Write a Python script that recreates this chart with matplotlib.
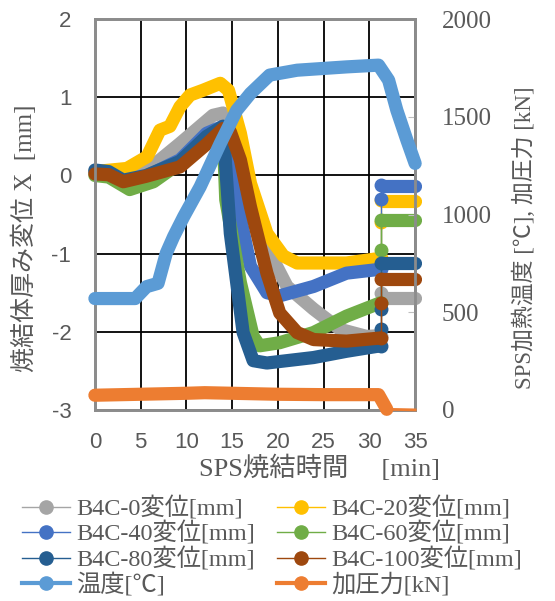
import numpy as np
import matplotlib
matplotlib.use('Agg')
import matplotlib.pyplot as plt
from matplotlib.lines import Line2D

plt.rcParams['font.family'] = ['Liberation Serif', 'Noto Sans CJK JP', 'DejaVu Sans']
plt.rcParams['axes.unicode_minus'] = False

# --- data ---
# displacement series: main part (thick), jump points (dots), final flat part
x_b0 = [0, 3.5, 6.7, 9.3, 12.9, 14.0, 15.5, 18.0, 21.0, 23.9, 26.8, 29.7, 31.2]
y_b0 = [0.03, 0.0, 0.16, 0.41, 0.77, 0.80, 0.41, -0.74, -1.42, -1.71, -1.97, -2.06, -2.05]
x_b20 = [0, 3.5, 5.7, 7.1, 8.2, 9.3, 10.4, 11.8, 13.7, 14.6, 15.9, 17.0, 18.8, 20.6, 22.1, 27.5, 31.2]
y_b20 = [0.05, 0.09, 0.24, 0.58, 0.63, 0.88, 1.03, 1.09, 1.18, 1.09, 0.54, -0.1, -0.74, -1.03, -1.12, -1.12, -1.06]
x_b40 = [0, 1.5, 3.1, 5.6, 9.3, 12.2, 14.0, 14.8, 15.5, 17.0, 18.8, 20.2, 23.9, 27.5, 31.2]
y_b40 = [0.05, 0.04, -0.08, -0.01, 0.2, 0.54, 0.63, 0.46, -0.31, -1.16, -1.5, -1.54, -1.42, -1.25, -1.2]
x_b60 = [0, 1.5, 3.8, 6.4, 9.3, 12.9, 14.0, 14.3, 15.9, 17.3, 18.0, 20.2, 23.9, 27.5, 31.2]
y_b60 = [0.0, -0.02, -0.18, -0.08, 0.16, 0.54, 0.6, -0.31, -1.37, -2.06, -2.18, -2.14, -2.01, -1.8, -1.63]
x_b80 = [0, 1.5, 3.1, 5.6, 9.3, 12.2, 14.0, 14.3, 14.8, 16.2, 17.3, 18.8, 23.9, 27.5, 31.2]
y_b80 = [0.07, 0.05, -0.06, 0.0, 0.18, 0.5, 0.63, 0.11, -0.74, -2.01, -2.37, -2.4, -2.33, -2.25, -2.18]
x_b100 = [0, 1.5, 3.1, 5.6, 9.3, 12.2, 14.0, 14.8, 15.9, 17.0, 18.8, 20.2, 22.1, 23.9, 27.5, 31.2]
y_b100 = [0.02, 0.01, -0.08, -0.01, 0.11, 0.4, 0.6, 0.56, 0.2, -0.4, -1.25, -1.76, -2.01, -2.1, -2.12, -2.08]

# jump points at the end of the run, then the last flat value
jump_b0 = [-1.5]
jump_b20 = [-0.6, -0.31]
jump_b40 = [-0.3, -0.12]
jump_b60 = [-0.95, -0.57]
jump_b80 = [-1.97, -1.71, -1.12]
jump_b100 = [-1.63, -1.33]
end_b0, end_b20, end_b40, end_b60, end_b80, end_b100 = -1.57, -0.33, -0.14, -0.57, -1.12, -1.33

x_temp = [0, 4.4, 5.65, 6.9, 7.8, 8.6, 9.7, 11.5, 13.7, 15.5, 17.0, 19.1, 22.1, 27.5, 31.0, 32.1, 33.0, 34.1, 35.0]
y_temp = [570, 570, 631, 648, 802, 887, 989, 1142, 1364, 1534, 1620, 1714, 1739, 1756, 1765, 1688, 1534, 1381, 1262]

x_pres = [0, 5, 10, 12, 20, 25, 31.0, 31.9, 35]
y_pres = [75, 80, 85, 88, 80, 78, 78, 3, 0]

labels = ['B4C-0変位[mm]', 'B4C-20変位[mm]', 'B4C-40変位[mm]', 'B4C-60変位[mm]',
          'B4C-80変位[mm]', 'B4C-100変位[mm]', '温度[℃]', '加圧力[kN]']
colors = ['#A5A5A5', '#FFC000', '#4472C4', '#70AD47', '#255E91', '#9E480E', '#5B9BD5', '#ED7D31']

disp = [(x_b0, y_b0, jump_b0, end_b0), (x_b20, y_b20, jump_b20, end_b20),
        (x_b40, y_b40, jump_b40, end_b40), (x_b60, y_b60, jump_b60, end_b60),
        (x_b80, y_b80, jump_b80, end_b80), (x_b100, y_b100, jump_b100, end_b100)]

fig = plt.figure(figsize=(5.55, 6.01), dpi=100)
ax = fig.add_axes([0.171, 0.318, 0.577, 0.650])
ax2 = ax.twinx()

LW = 9.5
x_jump = 31.3
x_end0, x_end1 = 31.5, 35
for (xs, ys, jumps, last), c in zip(disp, colors):
    ax.plot(xs, ys, color=c, lw=LW, solid_capstyle='round', solid_joinstyle='round', zorder=3, clip_on=False)
    jy = [ys[-1]] + jumps
    ax.plot([x_jump] * len(jy), jy, color=c, lw=1, marker='o', ms=9, zorder=3)
    ax.plot([x_end0, x_end1], [last, last], color=c, lw=LW, solid_capstyle='round', zorder=3, clip_on=False)

ax2.plot(x_temp, y_temp, color=colors[6], lw=LW, solid_capstyle='round', solid_joinstyle='round',
         zorder=4, clip_on=False)
ax2.plot(x_pres[:-1], y_pres[:-1], color=colors[7], lw=LW, solid_capstyle='round', solid_joinstyle='round',
         zorder=4, clip_on=False)
ax2.plot(x_pres[-2:], y_pres[-2:], color=colors[7], lw=2, zorder=4, clip_on=False)

ax.set_xlim(0, 35)
ax.set_ylim(-3, 2)
ax2.set_ylim(0, 2000)
ax.set_xticks(np.arange(0, 36, 5))
ax.set_yticks(np.arange(-3, 3, 1))
ax2.set_yticks(np.arange(0, 2001, 500))
ax.grid(True, color='black', lw=1.3)
ax.set_axisbelow(True)

for a in (ax, ax2):
    for s in a.spines.values():
        s.set_color('#8c8c8c')
        s.set_linewidth(2)

ax.tick_params(axis='y', length=0, labelsize=16, labelcolor='#595959', pad=17)
ax.tick_params(axis='x', length=0, labelsize=16, labelcolor='#595959', pad=16)
for t in ax.get_xticklabels() + ax.get_yticklabels():
    t.set_fontfamily('Liberation Sans')
ax2.tick_params(direction='in', length=5, color='#bfbfbf', labelsize=18, labelcolor='#595959', pad=19)

ax.set_xlabel('SPS焼結時間　 [min]', fontsize=19, color='#595959')
ax.xaxis.set_label_coords(0.70, -0.115)
ax.set_ylabel('焼結体厚み変位 X  [mm]', fontsize=18, color='#595959')
ax.yaxis.set_label_coords(-0.181, 0.44)
ax2.set_ylabel('SPS加熱温度 [℃], 加圧力 [kN]', fontsize=16.5, color='#595959')
ax2.yaxis.set_label_coords(1.306, 0.44)

handles = []
for i, c in enumerate(colors):
    handles.append(Line2D([], [], color=c, lw=1 if i < 6 else 3, marker='o', ms=9.5))
order = [0, 2, 4, 6, 1, 3, 5, 7]
fig.legend([handles[i] for i in order], [labels[i] for i in order], loc='lower center',
           bbox_to_anchor=(0.49, 0.003), ncol=2, frameon=False, fontsize=17.5, labelcolor='#595959',
           handlelength=2.0, handletextpad=0.25, columnspacing=0.9, labelspacing=0.06,
           borderaxespad=0.05, borderpad=0.05)

fig.savefig('out.png', dpi=100)
